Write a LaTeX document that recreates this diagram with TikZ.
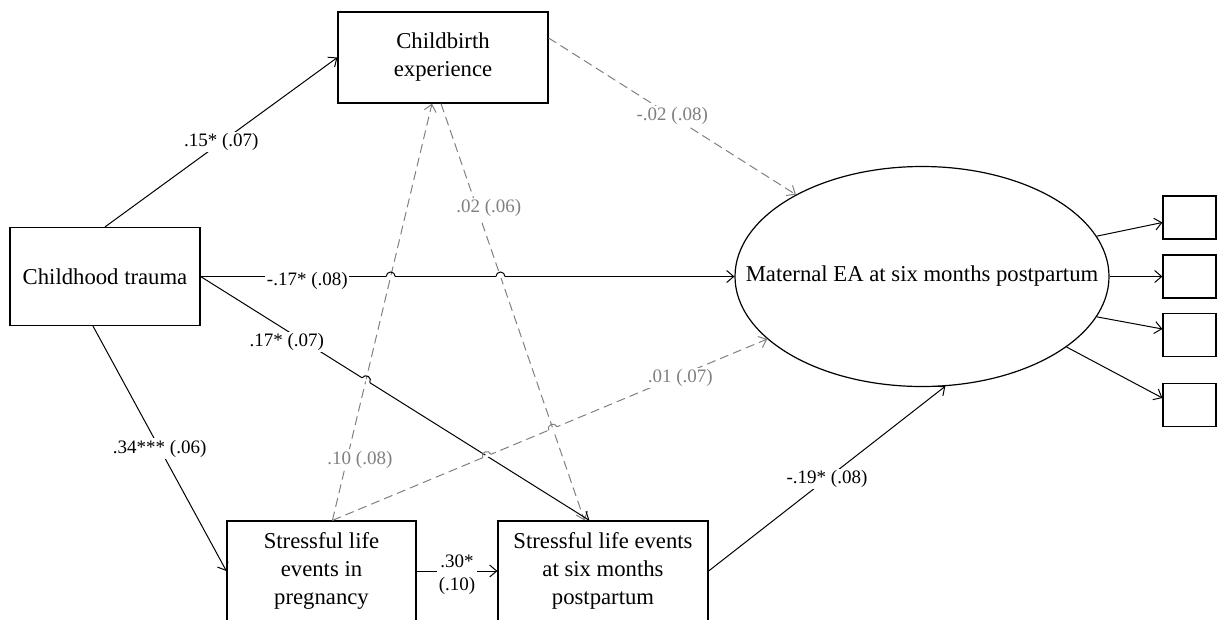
\documentclass[tikz,border=0pt]{standalone}
\usepackage{fontspec}
\setmainfont{Liberation Serif}
\usetikzlibrary{shapes.geometric,arrows.meta}
\definecolor{nsgray}{gray}{0.5}

\begin{document}
\begin{tikzpicture}[
          x=1pt, y=-1pt,
          font=\fontsize{22.7}{28}\selectfont,
          >={Straight Barb[length=7pt,width=12pt]},
          observed/.style={
            rectangle,
            draw=black,
            line width=1.2pt,
            align=center,
            inner sep=0pt,
          },
          latent/.style={
            ellipse,
            draw=black,
            line width=1.2pt,
            inner sep=0pt,
            minimum width=374pt,
            minimum height=220pt,
          },
          sig/.style={->, line width=1pt, draw=black},
          nonsig/.style={->, line width=1pt, draw=nsgray, dash pattern=on 9pt off 5pt},
          coef/.style={fill=white, inner sep=1.5pt, font=\fontsize{19}{23}\selectfont},
          nscoef/.style={coef, text=nsgray},
        ]
          \path[use as bounding box, clip] (0,0) rectangle (1217,619);

          % variables
          \node[observed, minimum width=190pt, minimum height=98pt] (trauma) at (105,276.5) {Childhood trauma};
          \node[observed, minimum width=210pt, minimum height=91pt] (birth) at (443,57.5) {Childbirth\\experience};
          \node[latent] (ea) at (922,276.5) {\makebox[0pt]{Maternal EA at six months postpartum}};
          \node[observed, minimum width=189pt, minimum height=100pt] (slepreg) at (321.5,571) {Stressful life\\events in\\pregnancy};
          \node[observed, minimum width=210pt, minimum height=100pt] (slepost) at (603,571) {Stressful life events\\at six months\\postpartum};
          \foreach \i/\y in {1/217.5, 2/276.5, 3/335, 4/405}
            \node[observed, minimum width=53pt, minimum height=43pt] (ind\i) at (1189.5,\y) {};

          % connector ends
          \coordinate (ctsouth) at ([xshift=-12pt]trauma.south);
          \coordinate (s1top) at ([xshift=106pt]slepreg.north west);
          \coordinate (s2solid) at ([xshift=92pt]slepost.north west);
          \coordinate (s2dash) at ([xshift=87pt]slepost.north west);
          \coordinate (cbbotl) at ([xshift=-11pt]birth.south);
          \coordinate (cbbotr) at ([xshift=-2pt]birth.south);
          \coordinate (cbright) at ([yshift=19.5pt]birth.east);
          \coordinate (ealow) at (ea.202);
          \coordinate (ind1in) at ([yshift=-5pt]ind1.west);
          \coordinate (ind3in) at ([yshift=6pt]ind3.west);
          \coordinate (ind4in) at ([yshift=7pt]ind4.west);

          % non-significant paths
          \draw
              (s1top) edge[nonsig] node[nscoef, pos=0.146, xshift=13pt]{.10 (.08)} (cbbotl)
              (cbbotr) edge[nonsig] node[nscoef, pos=0.25, xshift=12pt]{.02 (.06)} (s2dash)
              (cbright) edge[nonsig] node[nscoef]{-.02 (.08)} (ea.147)
              (s1top) edge[nonsig] node[nscoef, pos=0.8, yshift=-3pt]{.01 (.07)} (ealow);

          % significant paths
          \draw
              (trauma.north) edge[sig] node[coef]{.15* (.07)} (birth.west)
              (trauma.east) edge[sig] node[coef, pos=0.2, yshift=-4pt]{-.17* (.08)} (ea.west)
              (trauma.east) edge[sig] node[coef, pos=0.268, xshift=-18pt]{.17* (.07)} (s2solid)
              (ctsouth) edge[sig] node[coef]{.34*** (.06)} (slepreg.west)
              (slepreg.east) edge[sig] node[coef, align=center, yshift=-4pt]{.30*\\(.10)} (slepost.west)
              (slepost.east) edge[sig] node[coef]{-.19* (.08)} (ea.282)
              (ea.13) edge[sig] (ind1in)
              (ea.east) edge[sig] (ind2.west)
              (ea.347) edge[sig] (ind3in)
              (ea.334) edge[sig] (ind4in);

          % line jumps
          \coordinate (h1) at (intersection of trauma.east--ea.west and s1top--cbbotl);
          \coordinate (h2) at (intersection of trauma.east--ea.west and cbbotr--s2dash);
          \coordinate (h3) at (intersection of trauma.east--s2solid and s1top--cbbotl);
          \coordinate (h4) at (intersection of s1top--ealow and trauma.east--s2solid);
          \coordinate (h5) at (intersection of s1top--ealow and cbbotr--s2dash);
          \foreach \h/\a/\c in {h1/0/black, h2/0/black, h3/-32.2/black, h4/22.6/nsgray, h5/22.6/nsgray} {
            \draw[white, line width=2.4pt] ([shift={(\a+180:4.5pt)}]\h) -- ([shift={(\a:4.5pt)}]\h);
            \draw[\c, line width=1pt] ([shift={(\a+180:4.5pt)}]\h) arc[start angle=\a+180, end angle=\a, radius=4.5pt];
          }
        \end{tikzpicture}
\end{document}
